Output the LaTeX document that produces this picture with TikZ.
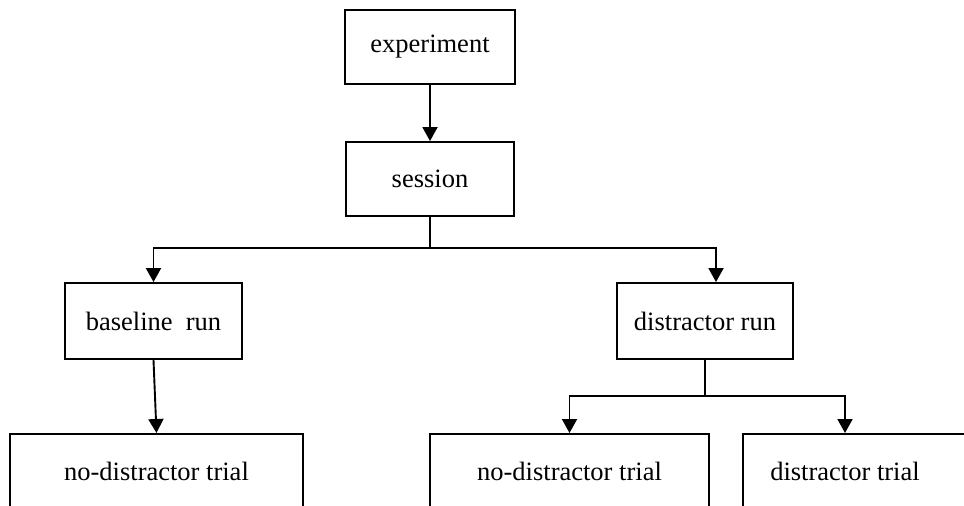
\documentclass[tikz,border=0pt]{standalone}
\usepackage{fontspec}
\setmainfont{Liberation Serif}
\usetikzlibrary{arrows.meta}
\begin{document}
\begin{tikzpicture}[x=1pt,y=-1pt,
  box/.style={draw, line width=1.9pt, inner sep=0pt, font=\fontsize{26.5}{30}\selectfont},
  lbl/.style={inner sep=0pt, font=\fontsize{26.5}{30}\selectfont},
  conn/.style={line width=1.9pt},
  arr/.style={conn, -{Triangle[length=14pt,width=15pt]}}]
\useasboundingbox (0,0) rectangle (964,506);
\clip (0,0) rectangle (964,506);

% top of the hierarchy
\node[box, minimum width=170pt, minimum height=74pt] (exp) at (430,47) {experiment};
\node[box, minimum width=168pt, minimum height=74pt] (sess) at (430,179) {session};

% runs
\node[box, minimum width=177pt, minimum height=76pt] (base) at (153.5,321) {baseline\ \ run};
\node[box, minimum width=176pt, minimum height=76pt] (drun) at (705,321) {distractor run};

% trials (boxes run past the lower edge)
\node[box, minimum width=293pt, minimum height=75pt, anchor=north] (ndl) at (156.5,433) {};
\node[lbl] (ndlt) at (ndl.center) {no-distractor trial};
\node[box, minimum width=279pt, minimum height=75pt, anchor=north] (ndm) at (569.5,433) {};
\node[lbl] (ndmt) at (ndm.center) {no-distractor trial};
\node[box, minimum width=250pt, minimum height=75pt, anchor=north west] (dt) at (742,433) {};
\node[lbl] (dtt) at (845,471) {distractor trial};

% junction points
\coordinate (sj) at (430,248);
\coordinate (dj) at (705,396);

% connectors
\draw[arr] (exp) -- (sess);
\draw[conn] (sess.south) -- (sj);
\draw[arr] (sj) -| (base.north);
\draw[arr] (sj) -| ([xshift=11pt]drun.north);
\draw[arr] (base.south) -- (ndl.north);
\draw[conn] (drun.south) -- (dj);
\draw[arr] (dj) -| (ndm.north);
\draw[arr] (dj) -| (dtt.north |- dt.north);
\end{tikzpicture}
\end{document}
